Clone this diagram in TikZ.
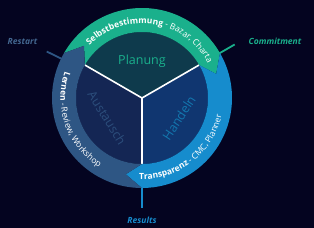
\documentclass[tikz,border=0pt]{standalone}
\usepackage{fontspec}
\setmainfont{Open Sans}
\usepackage{tikz}
\usetikzlibrary{decorations.text, calc}
\definecolor{bgnavy}{RGB}{4,4,32}
\definecolor{ringgreen}{RGB}{26,176,140}
\definecolor{ringblue}{RGB}{22,140,205}
\definecolor{ringslate}{RGB}{46,86,132}
\definecolor{planfill}{RGB}{14,58,76}
\definecolor{handfill}{RGB}{16,54,112}
\definecolor{tauschfill}{RGB}{20,38,84}
\definecolor{tauschtext}{RGB}{44,78,124}
\tikzstyle{divider} = [draw=white, line width=1.6pt]
\tikzstyle{marker} = [line width=1.8pt]
\tikzstyle{phase} = [inner sep=0pt, font=\fontsize{8.5}{10}\selectfont\bfseries\itshape]
\tikzstyle{inner} = [inner sep=0pt, font=\fontsize{12.5}{14}\selectfont]
\tikzstyle{arctext} = [decorate, decoration={text along path, text align=left, text color=white}]
\newcommand{\bandbold}{\fontsize{8.5}{10}\selectfont\bfseries}
\newcommand{\bandplain}{\fontsize{8.5}{10}\selectfont\mdseries}

\begin{document}
\begin{tikzpicture}[x=1pt, y=1pt]
    \fill[bgnavy] (0,0) rectangle (314,228);
    \useasboundingbox (0,0) rectangle (314,228);

    \begin{scope}[shift={(142,130)}]
        % markers behind the ring
        \coordinate (restartA) at (154:86pt);
        \coordinate (restartB) at (154:106pt);
        \coordinate (commitA) at (30:88pt);
        \coordinate (commitB) at (30:107pt);
        \coordinate (resultsA) at (270:88pt);
        \coordinate (resultsB) at (270:110pt);
        \draw [marker, draw=ringslate] (restartA) -- (restartB);
        \draw [marker, draw=ringgreen] (commitA) -- (commitB);
        \draw [marker, draw=ringblue] (resultsA) -- (resultsB);

        % inner sectors
        \fill[planfill] (0,0) -- (30:66pt) arc[start angle=30, end angle=150, radius=66pt] -- cycle;
        \fill[tauschfill] (0,0) -- (150:66pt) arc[start angle=150, end angle=270, radius=66pt] -- cycle;
        \fill[handfill] (0,0) -- (270:66pt) arc[start angle=270, end angle=390, radius=66pt] -- cycle;
        \coordinate (hub) at (0,0);
        \draw [divider] (hub) -- (30:66pt);
        \draw [divider] (hub) -- (150:66pt);
        \draw [divider] (hub) -- (270:66pt);

        % ring segments
        \fill[ringgreen] (150:90pt) arc[start angle=150, end angle=30, radius=90pt]
            -- (18:78pt) -- (30:66pt) arc[start angle=30, end angle=150, radius=66pt]
            -- (138:78pt) -- cycle;
        \fill[ringblue] (30:90pt) arc[start angle=30, end angle=-90, radius=90pt]
            -- (-102:78pt) -- (-90:66pt) arc[start angle=-90, end angle=30, radius=66pt]
            -- (18:78pt) -- cycle;
        \fill[ringslate] (270:90pt) arc[start angle=270, end angle=150, radius=90pt]
            -- (138:78pt) -- (150:66pt) arc[start angle=150, end angle=270, radius=66pt]
            -- (258:78pt) -- cycle;

        % texts along the ring
        \path [arctext, decoration={text={|\bandbold|Selbstbestimmung|\bandplain| - Bazar, Charta}}]
            (135:74.5pt) arc[start angle=135, end angle=0, radius=74.5pt];
        \path [arctext, decoration={text={|\bandbold|Lernen|\bandplain| - Review, Workshop}}]
            (161:81.5pt) arc[start angle=161, end angle=265, radius=81.5pt];
        \path [arctext, decoration={text={|\bandbold|Transparenz|\bandplain| - CMC, Planner}}]
            (268:81.5pt) arc[start angle=268, end angle=390, radius=81.5pt];

        % inner labels
        \node (planung) [inner, text=ringgreen] at (0,37) {Planung};
        \node (handeln) [inner, text=ringblue!85!black, rotate=57] at (37,-20) {Handeln};
        \node (austausch) [inner, text=tauschtext, rotate=-58] at (-35,-20) {Austausch};
    \end{scope}

    % phase labels
    \node (restart) [phase, text=ringslate!90!white] at (22.5,186) {Restart};
    \node (commitment) [phase, text=ringgreen] at (275,187) {Commitment};
    \node (results) [phase, text=ringblue] at (142,8) {Results};
\end{tikzpicture}
\end{document}
